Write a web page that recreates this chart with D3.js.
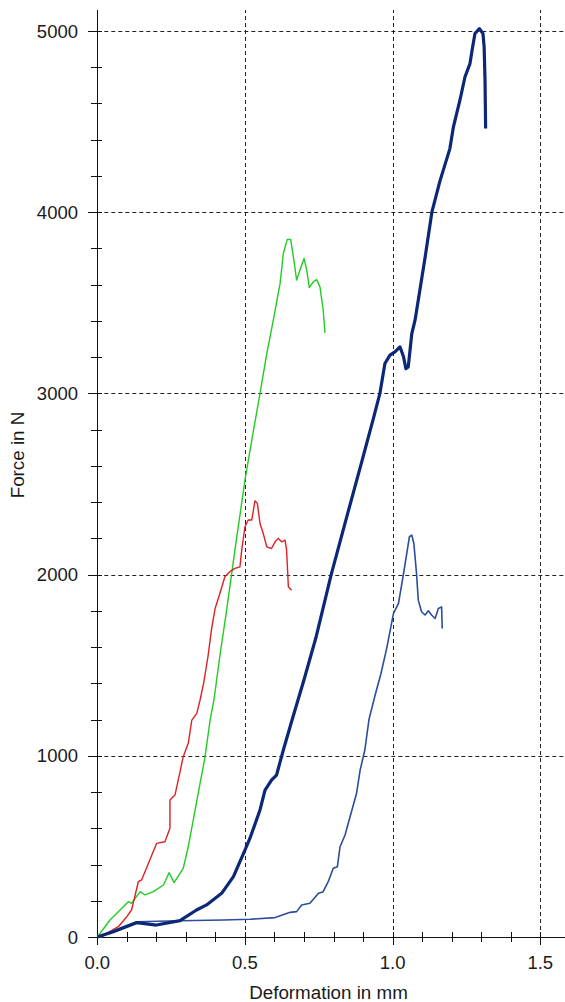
<!DOCTYPE html>
<html>
<head>
<meta charset="utf-8">
<script src="https://cdn.jsdelivr.net/npm/d3@7"></script>
<style>
  html, body { margin: 0; padding: 0; background: #fff; }
  svg { display: block; }
  text { font-family: "Liberation Sans", Arial, sans-serif; fill: #1a1a1a; }
</style>
</head>
<body>
<svg id="chart" width="565" height="1002"></svg>
<script>
// ---- data (deformation in mm, force in N) ----
const xTickValues = [0, 0.5, 1.0, 1.5];
const xTickLabels = ["0.0", "0.5", "1.0", "1.5"];
const yTickValues = [0, 1000, 2000, 3000, 4000, 5000];
const yTickLabels = ["0", "1000", "2000", "3000", "4000", "5000"];

const redSeries = [
  [0,0],[0.015,0],[0.032,20],[0.071,57],[0.1,112],[0.116,149],[0.139,305],[0.15,315],
  [0.201,517],[0.229,526],[0.246,600],[0.246,756],[0.263,783],[0.274,866],[0.291,995],
  [0.308,1069],[0.32,1197],[0.337,1234],[0.348,1308],[0.36,1400],[0.375,1550],[0.387,1700],
  [0.399,1813],[0.415,1896],[0.432,1988],[0.449,2016],[0.466,2034],[0.483,2043],[0.489,2135],
  [0.5,2264],[0.511,2301],[0.523,2301],[0.534,2407],[0.542,2393],[0.551,2282],[0.562,2227],
  [0.574,2153],[0.59,2144],[0.602,2181],[0.613,2200],[0.624,2181],[0.636,2190],[0.641,2135],
  [0.647,1933],[0.658,1914]
];
const greenSeries = [
  [0,0],[0.043,94],[0.105,195],[0.116,186],[0.145,250],[0.162,232],[0.19,250],[0.224,287],
  [0.243,355],[0.26,300],[0.291,379],[0.308,498],[0.325,646],[0.348,848],[0.365,995],
  [0.382,1197],[0.395,1308],[0.415,1550],[0.438,1804],[0.466,2135],[0.5,2521],[0.525,2760],
  [0.551,3000],[0.574,3220],[0.596,3404],[0.619,3607],[0.63,3772],[0.643,3849],[0.655,3849],
  [0.664,3753],[0.675,3625],[0.686,3680],[0.7,3745],[0.709,3680],[0.718,3584],[0.731,3616],
  [0.743,3628],[0.754,3588],[0.765,3459],[0.771,3334]
];
const thickNavySeries = [
  [0,0],[0.054,29],[0.133,79],[0.2,66],[0.28,90],[0.336,149],[0.37,177],[0.421,241],
  [0.461,333],[0.5,480],[0.517,545],[0.551,701],[0.568,811],[0.59,866],[0.607,894],
  [0.63,1032],[0.66,1200],[0.7,1420],[0.74,1650],[0.792,2000],[0.85,2350],[0.9,2650],
  [0.935,2862],[0.957,3000],[0.974,3165],[0.991,3211],[1.008,3229],[1.025,3257],[1.037,3202],
  [1.045,3137],[1.053,3146],[1.065,3330],[1.076,3404],[1.087,3515],[1.11,3750],[1.133,4000],
  [1.16,4170],[1.194,4351],[1.206,4471],[1.228,4618],[1.245,4746],[1.262,4820],[1.271,4912],
  [1.279,4986],[1.294,5013],[1.306,4986],[1.31,4912],[1.313,4728],[1.315,4462]
];
const thinNavySeries = [
  [0,0],[0.133,84],[0.28,90],[0.427,94],[0.517,98],[0.602,107],[0.653,136],[0.675,140],
  [0.692,177],[0.72,186],[0.749,241],[0.765,250],[0.782,305],[0.799,379],[0.813,388],
  [0.822,498],[0.839,563],[0.856,664],[0.878,793],[0.89,921],[0.906,1032],[0.92,1200],
  [0.94,1330],[0.96,1450],[0.98,1593],[1.003,1786],[1.02,1841],[1.037,2006],[1.048,2117],
  [1.057,2209],[1.065,2218],[1.072,2172],[1.081,2006],[1.087,1859],[1.098,1795],[1.11,1777],
  [1.121,1800],[1.132,1777],[1.144,1758],[1.155,1813],[1.166,1822],[1.168,1703]
];

const seriesList = [
  { data: greenSeries, color: "#22cc22", width: 1.4 },
  { data: redSeries, color: "#dd2222", width: 1.4 },
  { data: thinNavySeries, color: "#2d4c9c", width: 1.6 },
  { data: thickNavySeries, color: "#0b2775", width: 3.2 }
];

// ---- layout ----
const svg = d3.select("#chart");
const x0 = 97.3, xRight = 565, yBase = 937, yTop = 10;
const x = d3.scaleLinear().domain([0, 1]).range([x0, x0 + 295.3]);
const y = d3.scaleLinear().domain([0, 1000]).range([yBase, yBase - 181.2]);
const xMax = x.invert(xRight), yMax = y.invert(yTop);

// grid
const grid = svg.append("g").attr("stroke", "#222").attr("stroke-width", 1)
  .attr("stroke-dasharray", "4,3").attr("fill", "none");
grid.selectAll("line.gx").data(xTickValues.filter(v => v > 0)).join("line")
  .attr("x1", d => Math.round(x(d)) + 0.5).attr("x2", d => Math.round(x(d)) + 0.5)
  .attr("y1", y(0)).attr("y2", y(yMax));
grid.selectAll("line.gy").data(yTickValues.filter(v => v > 0)).join("line")
  .attr("y1", d => Math.round(y(d)) + 0.5).attr("y2", d => Math.round(y(d)) + 0.5)
  .attr("x1", x(0)).attr("x2", xRight);

// axes lines
svg.append("line").attr("x1", 88).attr("x2", xRight)
  .attr("y1", yBase + 0.5).attr("y2", yBase + 0.5).attr("stroke", "#111");
svg.append("line").attr("x1", Math.round(x0) + 0.5).attr("x2", Math.round(x0) + 0.5)
  .attr("y1", yTop).attr("y2", yBase + 8).attr("stroke", "#111");

// x ticks
const xMinor = d3.range(0, xMax + 1e-9, 0.1);
svg.append("g").selectAll("line").data(xMinor).join("line")
  .attr("x1", d => Math.round(x(d)) + 0.5).attr("x2", d => Math.round(x(d)) + 0.5)
  .attr("y1", d => Math.abs(d * 2 - Math.round(d * 2)) < 1e-6 ? yBase - 5 : yBase - 5)
  .attr("y2", d => Math.abs(d * 2 - Math.round(d * 2)) < 1e-6 ? yBase + 8 : yBase + 5)
  .attr("stroke", "#111");
svg.append("g").selectAll("text").data(xTickValues).join("text")
  .attr("x", d => x(d)).attr("y", 968.5).attr("text-anchor", "middle")
  .attr("font-size", "18.5px").text((d, i) => xTickLabels[i]);

// y ticks
const yMinor = d3.range(0, yMax + 1e-9, 200);
svg.append("g").selectAll("line").data(yMinor).join("line")
  .attr("y1", d => Math.round(y(d)) + 0.5).attr("y2", d => Math.round(y(d)) + 0.5)
  .attr("x1", d => d % 1000 === 0 ? 88 : 91).attr("x2", 102)
  .attr("stroke", "#111");
svg.append("g").selectAll("text").data(yTickValues).join("text")
  .attr("x", 78).attr("y", d => y(d) + 6.5).attr("text-anchor", "end")
  .attr("font-size", "18.5px").text((d, i) => yTickLabels[i]);

// axis titles
svg.append("text").attr("x", (249 + 408) / 2).attr("y", 999).attr("text-anchor", "middle")
  .attr("font-size", "18.8px").text("Deformation in mm");
svg.append("text").attr("transform", "translate(24,455) rotate(-90)")
  .attr("text-anchor", "middle").attr("font-size", "18.8px").text("Force in N");

// curves
const line = d3.line().x(d => x(d[0])).y(d => y(d[1]));
svg.append("g").selectAll("path").data(seriesList).join("path")
  .attr("d", d => line(d.data)).attr("fill", "none")
  .attr("stroke", d => d.color).attr("stroke-width", d => d.width)
  .attr("stroke-linejoin", "round");
</script>
</body>
</html>
